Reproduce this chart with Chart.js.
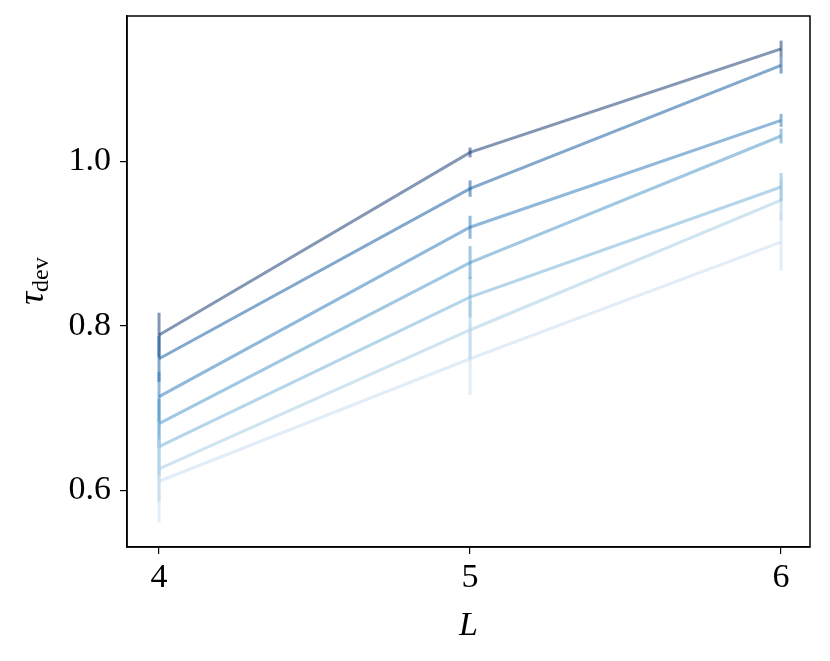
<!DOCTYPE html>
<html>
<head>
<meta charset="utf-8">
<script src="https://cdn.jsdelivr.net/npm/chart.js@4.4.0/dist/chart.umd.min.js"></script>
<style>
  html, body { margin: 0; padding: 0; background: #fff; }
  #wrap { width: 830px; height: 661px; }
</style>
</head>
<body>
<div id="wrap"><canvas id="tau-chart" width="830" height="661"></canvas></div>
<script>
const sizesL = [4, 5, 6]
const yTicks = [0.6, 0.8, 1.0]

// one array per curve, darkest (top) to lightest (bottom)
const tau1 = [0.789, 1.011, 1.137]
const tau2 = [0.760, 0.967, 1.117]
const tau3 = [0.714, 0.920, 1.050]
const tau4 = [0.681, 0.877, 1.031]
const tau5 = [0.653, 0.835, 0.969]
const tau6 = [0.626, 0.795, 0.953]
const tau7 = [0.611, 0.760, 0.902]

const err1 = [0.027, 0.006, 0.010]
const err2 = [0.028, 0.010, 0.010]
const err3 = [0.030, 0.014, 0.008]
const err4 = [0.030, 0.020, 0.009]
const err5 = [0.035, 0.025, 0.017]
const err6 = [0.040, 0.035, 0.025]
const err7 = [0.050, 0.044, 0.035]

const lineColors = [
    'rgba(8, 48, 107, 0.5)',
    'rgba(8, 81, 156, 0.5)',
    'rgba(33, 113, 181, 0.5)',
    'rgba(66, 146, 198, 0.5)',
    'rgba(107, 174, 214, 0.5)',
    'rgba(158, 202, 225, 0.5)',
    'rgba(198, 219, 239, 0.5)'
]

const allTau = [tau1, tau2, tau3, tau4, tau5, tau6, tau7]
const allErr = [err1, err2, err3, err4, err5, err6, err7]

const serif = '"Liberation Serif", "Times New Roman", Tinos, serif'

const datasets = allTau.map((vals, i) => ({
    data: vals.map((v, j) => ({ x: sizesL[j], y: v })),
    errs: allErr[i],
    borderColor: lineColors[i],
    backgroundColor: lineColors[i],
    borderWidth: 3,
    pointRadius: 0,
    tension: 0
}))

// vertical error bars drawn through the scales
const errorBars = {
    id: 'errorBars',
    afterDatasetsDraw(chart) {
        const { ctx, scales: { x, y } } = chart
        ctx.save()
        chart.data.datasets.forEach(ds => {
            ctx.strokeStyle = ds.borderColor
            ctx.lineWidth = 3
            ds.data.forEach((p, j) => {
                const px = x.getPixelForValue(p.x)
                ctx.beginPath()
                ctx.moveTo(px, y.getPixelForValue(p.y - ds.errs[j]))
                ctx.lineTo(px, y.getPixelForValue(p.y + ds.errs[j]))
                ctx.stroke()
            })
        })
        ctx.restore()
    }
}

// frame box plus axis titles (tau with subscript)
const frameAndTitles = {
    id: 'frameAndTitles',
    afterDraw(chart) {
        const { ctx, chartArea: a } = chart
        ctx.save()
        ctx.strokeStyle = '#000'
        ctx.lineWidth = 1.5
        ctx.strokeRect(a.left, a.top, a.right - a.left, a.bottom - a.top)

        ctx.fillStyle = '#000'
        ctx.textAlign = 'center'
        ctx.textBaseline = 'middle'
        ctx.font = "italic 34px " + serif
        ctx.fillText('L', (a.left + a.right) / 2, 626)

        ctx.translate(43, 281)
        ctx.rotate(-Math.PI / 2)
        ctx.textAlign = 'left'
        ctx.textBaseline = 'alphabetic'
        ctx.font = "italic 36px " + serif
        const tw = ctx.measureText('τ').width
        ctx.font = "24px " + serif
        const sw = ctx.measureText('dev').width
        const start = -(tw + sw) / 2
        ctx.font = "italic 36px " + serif
        ctx.fillText('τ', start, 0)
        ctx.font = "24px " + serif
        ctx.fillText('dev', start + tw, 5)
        ctx.restore()
    }
}

const ctx = document.getElementById('tau-chart')

new Chart(ctx, {
    type: 'line',
    data: { datasets: datasets },
    options: {
        responsive: false,
        animation: false,
        layout: { padding: { top: 16, right: 20, left: 0, bottom: 0 } },
        plugins: { legend: { display: false }, tooltip: { enabled: false } },
        scales: {
            x: {
                type: 'linear',
                min: 3.897,
                max: 6.093,
                afterBuildTicks: s => { s.ticks = sizesL.map(v => ({ value: v })) },
                afterFit: s => { s.height = 114; s.paddingLeft = 0; s.paddingRight = 0 },
                grid: { display: true, drawOnChartArea: false, drawTicks: true, tickLength: 7, color: '#000', lineWidth: 1.2 },
                border: { display: true, color: '#000', width: 1.5 },
                ticks: {
                    color: '#000',
                    font: { family: serif, size: 34 },
                    padding: 4,
                    maxRotation: 0,
                    callback: v => String(v)
                }
            },
            y: {
                type: 'linear',
                min: 0.531,
                max: 1.177,
                afterBuildTicks: s => { s.ticks = yTicks.map(v => ({ value: v })) },
                afterFit: s => { s.width = 127; s.paddingTop = 0; s.paddingBottom = 0 },
                grid: { display: true, drawOnChartArea: false, drawTicks: true, tickLength: 7, color: '#000', lineWidth: 1.2 },
                border: { display: true, color: '#000', width: 1.5 },
                ticks: {
                    color: '#000',
                    font: { family: serif, size: 34 },
                    padding: 9,
                    callback: v => v.toFixed(1)
                }
            }
        }
    },
    plugins: [errorBars, frameAndTitles]
})
</script>
</body>
</html>
